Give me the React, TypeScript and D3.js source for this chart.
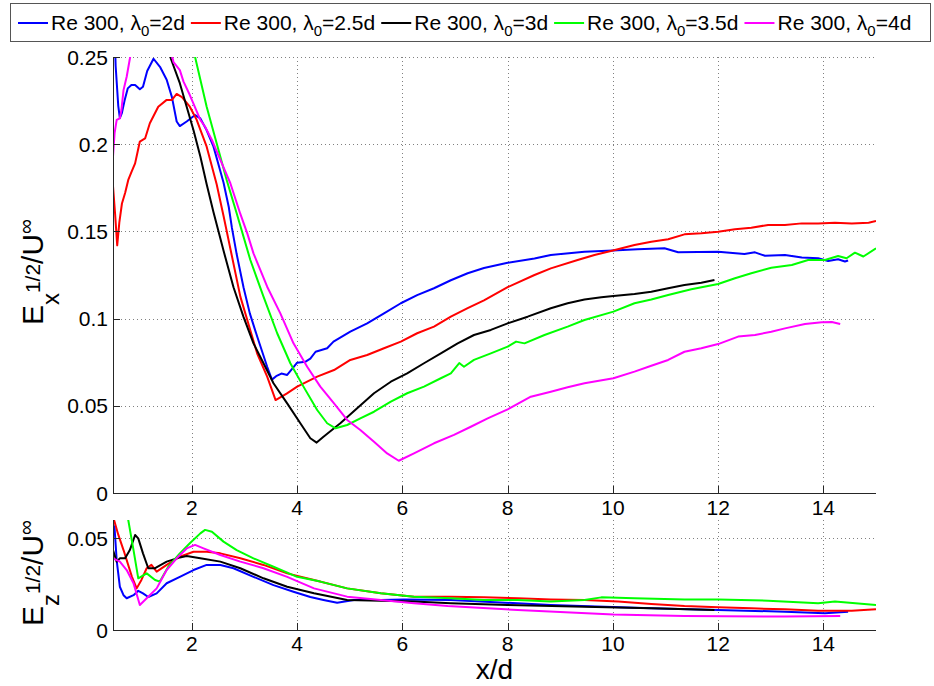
import React, { useEffect, useRef } from 'react';
import * as d3 from 'd3';

type P = [number, number];

const X_TICKS = [2, 4, 6, 8, 10, 12, 14];
const TOP_Y_TICKS = [0, 0.05, 0.1, 0.15, 0.2, 0.25];
const BOT_Y_TICKS = [0, 0.05];
const LAMBDAS = ['2d', '2.5d', '3d', '3.5d', '4d'];
const COLORS = ['#0000ff', '#ff0000', '#000000', '#00ff00', '#ff00ff'];

// Top panel: E_x^{1/2}/U∞ vs x/d
const topL2: P[] = [[0.5,0.30],[0.55,0.245],[0.6,0.222],[0.63,0.215],[0.67,0.218],[0.72,0.225],[0.78,0.232],[0.85,0.234],[0.92,0.234],[1.01,0.2315],[1.07,0.233],[1.15,0.242],[1.27,0.249],[1.4,0.244],[1.52,0.237],[1.62,0.227],[1.71,0.213],[1.77,0.2104],[1.9,0.213],[2.06,0.2167],[2.16,0.2148],[2.28,0.208],[2.41,0.1986],[2.6,0.178],[2.7,0.164],[2.76,0.152],[2.85,0.137],[2.98,0.118],[3.1,0.103],[3.24,0.0897],[3.43,0.0724],[3.52,0.065],[3.6,0.067],[3.7,0.0685],[3.81,0.0677],[3.9,0.071],[4.0,0.0747],[4.16,0.0753],[4.25,0.077],[4.35,0.081],[4.57,0.083],[4.69,0.0868],[5.01,0.0925],[5.33,0.0973],[5.65,0.103],[5.97,0.1088],[6.28,0.1135],[6.6,0.1174],[6.92,0.122],[7.24,0.126],[7.55,0.129],[8.0,0.132],[8.51,0.1345],[8.82,0.1365],[9.46,0.1384],[10.0,0.139],[10.47,0.1397],[10.98,0.1403],[11.24,0.138],[12.0,0.1384],[12.5,0.137],[12.7,0.138],[12.89,0.136],[13.27,0.1365],[13.59,0.135],[13.9,0.1346],[14.09,0.133],[14.28,0.134],[14.41,0.1327],[14.47,0.1333]];
const topL25: P[] = [[0.5,0.176],[0.54,0.16],[0.58,0.142],[0.62,0.155],[0.67,0.166],[0.73,0.172],[0.79,0.1795],[0.85,0.184],[0.92,0.189],[0.97,0.196],[1.01,0.2015],[1.11,0.2033],[1.2,0.212],[1.36,0.2215],[1.52,0.2254],[1.62,0.2254],[1.71,0.2288],[1.81,0.227],[1.96,0.2215],[2.09,0.214],[2.28,0.1986],[2.47,0.177],[2.6,0.159],[2.92,0.1126],[3.24,0.080],[3.43,0.0667],[3.59,0.0533],[3.8,0.057],[4.0,0.061],[4.38,0.0667],[4.7,0.0705],[5.01,0.0763],[5.33,0.0791],[5.65,0.083],[5.97,0.0868],[6.28,0.0916],[6.6,0.0954],[6.92,0.1011],[7.24,0.106],[7.55,0.1105],[8.0,0.118],[8.51,0.125],[8.82,0.1288],[9.33,0.1336],[9.65,0.1365],[10.0,0.139],[10.41,0.1422],[10.73,0.1441],[11.05,0.1455],[11.36,0.1483],[11.68,0.1489],[12.0,0.1498],[12.32,0.1512],[12.63,0.1521],[12.95,0.1537],[13.27,0.1537],[13.59,0.1546],[13.9,0.1546],[14.22,0.155],[14.54,0.1546],[14.86,0.155],[15.0,0.156]];
const topL3: P[] = [[1.5,0.27],[1.6,0.249],[1.77,0.235],[1.9,0.2215],[2.03,0.208],[2.16,0.193],[2.28,0.177],[2.41,0.161],[2.6,0.139],[2.79,0.118],[2.98,0.101],[3.17,0.0858],[3.36,0.0744],[3.55,0.0629],[3.81,0.0514],[4.06,0.04],[4.25,0.0314],[4.37,0.0289],[4.5,0.0323],[4.82,0.04],[5.14,0.0486],[5.46,0.0572],[5.78,0.0638],[6.09,0.0686],[6.41,0.0744],[6.73,0.0801],[7.05,0.0858],[7.36,0.0906],[7.68,0.0935],[8.0,0.0973],[8.38,0.1011],[8.82,0.1059],[9.14,0.1088],[9.46,0.111],[9.78,0.1122],[10.01,0.113],[10.41,0.1141],[10.73,0.1154],[11.05,0.1174],[11.36,0.1193],[11.68,0.1206],[11.93,0.1221]];
const topL35: P[] = [[1.95,0.27],[2.06,0.25],[2.28,0.2215],[2.47,0.2005],[2.66,0.1795],[2.85,0.1604],[3.11,0.1336],[3.36,0.1126],[3.62,0.0916],[3.87,0.0744],[4.12,0.061],[4.38,0.0476],[4.57,0.04],[4.73,0.0371],[4.95,0.039],[5.2,0.0428],[5.46,0.0466],[5.78,0.0524],[6.09,0.0572],[6.41,0.061],[6.73,0.0658],[6.92,0.0686],[7.08,0.0745],[7.17,0.0724],[7.36,0.0763],[7.68,0.0801],[8.0,0.0839],[8.16,0.0868],[8.32,0.0858],[8.7,0.0906],[9.14,0.0954],[9.46,0.0992],[10.01,0.104],[10.41,0.1088],[10.73,0.111],[11.05,0.1135],[11.49,0.1168],[12.0,0.1198],[12.32,0.1231],[12.63,0.126],[13.01,0.1292],[13.4,0.1307],[13.71,0.1336],[14.03,0.1336],[14.28,0.1359],[14.44,0.1346],[14.6,0.1378],[14.76,0.1356],[15.0,0.1403]];
const topL4: P[] = [[0.5,0.193],[0.53,0.2063],[0.57,0.2139],[0.63,0.2148],[0.66,0.2196],[0.7,0.231],[0.76,0.2387],[0.82,0.249],[0.9,0.265],[1.1,0.28],[1.35,0.275],[1.55,0.26],[1.65,0.247],[1.77,0.2425],[1.84,0.2359],[1.96,0.2282],[2.16,0.2139],[2.25,0.21],[2.38,0.2024],[2.54,0.191],[2.73,0.1776],[2.92,0.16],[3.05,0.149],[3.17,0.1374],[3.43,0.1183],[3.68,0.103],[3.93,0.0858],[4.19,0.0724],[4.44,0.061],[4.7,0.0514],[4.95,0.0419],[5.2,0.0361],[5.46,0.0294],[5.71,0.0227],[5.93,0.0185],[6.22,0.0227],[6.6,0.0285],[6.98,0.0333],[7.3,0.038],[7.62,0.0428],[8.0,0.048],[8.44,0.0552],[8.82,0.0581],[9.14,0.0606],[9.46,0.0629],[10.01,0.0658],[10.41,0.0696],[10.73,0.073],[11.05,0.0763],[11.36,0.081],[11.68,0.083],[12.0,0.0854],[12.38,0.0897],[12.7,0.0906],[13.01,0.0925],[13.27,0.0944],[13.65,0.0969],[13.97,0.0979],[14.16,0.098],[14.32,0.0969]];

// Bottom panel: E_z^{1/2}/U∞ vs x/d
const botL2: P[] = [[0.5,0.058],[0.53,0.0555],[0.57,0.038],[0.63,0.0236],[0.7,0.019],[0.76,0.0173],[0.89,0.019],[0.98,0.0214],[1.07,0.02],[1.17,0.018],[1.33,0.02],[1.52,0.0255],[1.77,0.029],[2.03,0.0327],[2.28,0.0355],[2.54,0.0355],[2.79,0.0337],[3.17,0.029],[3.55,0.0245],[3.93,0.0209],[4.25,0.018],[4.5,0.0164],[4.76,0.0149],[5.08,0.0164],[5.59,0.0164],[6.03,0.0167],[6.92,0.0164],[8.82,0.0136],[10.73,0.0118],[12.0,0.0109],[13.27,0.01],[14.03,0.0091],[14.47,0.01]];
const botL25: P[] = [[0.5,0.062],[0.6,0.052],[0.7,0.0436],[0.86,0.029],[0.95,0.0227],[1.04,0.0273],[1.14,0.0337],[1.23,0.0355],[1.33,0.0318],[1.52,0.0355],[1.77,0.04],[2.03,0.0427],[2.28,0.0427],[2.54,0.0418],[2.92,0.0391],[3.36,0.0355],[3.81,0.0309],[4.32,0.0273],[4.95,0.0227],[5.59,0.02],[6.22,0.0182],[6.92,0.0182],[7.55,0.0178],[8.19,0.0173],[8.82,0.0167],[9.46,0.0164],[10.1,0.0155],[10.73,0.0142],[11.36,0.0131],[12.0,0.0124],[12.63,0.0118],[13.27,0.0113],[13.9,0.0105],[14.54,0.0105],[15.0,0.0113]];
const botL3: P[] = [[0.5,0.0436],[0.57,0.0373],[0.63,0.0391],[0.73,0.0391],[0.82,0.0436],[0.92,0.0518],[0.98,0.05],[1.07,0.0418],[1.17,0.0337],[1.3,0.0337],[1.52,0.0373],[1.77,0.0396],[1.9,0.0404],[2.16,0.0391],[2.54,0.0373],[2.92,0.0337],[3.36,0.0282],[3.81,0.0236],[4.32,0.02],[4.95,0.0164],[5.59,0.016],[6.22,0.0155],[6.92,0.0146],[8.0,0.0136],[9.46,0.0127],[10.73,0.0118],[11.93,0.0109]];
const botL35: P[] = [[0.6,0.075],[0.79,0.06],[0.89,0.0436],[0.98,0.0282],[1.14,0.0309],[1.3,0.0273],[1.39,0.0264],[1.55,0.0345],[1.77,0.0418],[1.96,0.0473],[2.16,0.0527],[2.25,0.0546],[2.38,0.0536],[2.6,0.0482],[2.85,0.0436],[3.17,0.0391],[3.55,0.0345],[4.0,0.029],[4.44,0.0264],[4.95,0.0227],[5.59,0.02],[6.22,0.0182],[6.92,0.0173],[7.55,0.0164],[8.19,0.0164],[8.82,0.0155],[9.46,0.0164],[9.78,0.0178],[10.41,0.0173],[11.36,0.0167],[12.0,0.0167],[12.95,0.016],[13.9,0.0146],[14.22,0.0155],[15.0,0.0136]];
const botL4: P[] = [[0.5,0.0391],[0.63,0.0373],[0.76,0.0327],[0.89,0.0255],[1.01,0.0136],[1.14,0.0173],[1.33,0.0227],[1.52,0.0327],[1.71,0.0391],[1.9,0.0445],[2.06,0.0464],[2.22,0.0445],[2.54,0.0409],[2.92,0.0373],[3.36,0.0337],[3.81,0.029],[4.32,0.0227],[4.95,0.0182],[5.59,0.0164],[6.22,0.0146],[6.86,0.0131],[8.19,0.0109],[10.01,0.0085],[11.36,0.0076],[13.27,0.0073],[14.32,0.0076]];

const TOP_SERIES = [topL2, topL25, topL3, topL35, topL4];
const BOT_SERIES = [botL2, botL25, botL3, botL35, botL4];

const FONT = '"Liberation Sans", Arial, sans-serif';

export default function App() {
  const ref = useRef<SVGSVGElement>(null);

  useEffect(() => {
    const svg = d3.select(ref.current);
    svg.selectAll('*').remove();

    const x = d3.scaleLinear().domain([0.5, 15]).range([113, 876]);
    const yTop = d3.scaleLinear().domain([0, 0.25]).range([493, 57]);
    const yBot = d3.scaleLinear().domain([0, 0.06]).range([630, 520]);

    const defs = svg.append('defs');

    const drawPanel = (
      id: string,
      y: d3.ScaleLinear<number, number>,
      yTicks: number[],
      series: P[][],
      xLabelBaseline: number
    ) => {
      const [x0, x1] = x.range();
      const [yb, yt] = y.range();
      defs.append('clipPath').attr('id', id)
        .append('rect').attr('x', x0).attr('y', yt).attr('width', x1 - x0).attr('height', yb - yt);

      const g = svg.append('g');
      g.selectAll('line.vg').data(X_TICKS).enter().append('line')
        .attr('x1', (d) => Math.round(x(d)) + 0.5).attr('x2', (d) => Math.round(x(d)) + 0.5)
        .attr('y1', yt).attr('y2', yb)
        .attr('stroke', '#808080').attr('stroke-width', 1).attr('stroke-dasharray', '1,3');
      g.selectAll('line.hg').data(yTicks.filter((t) => t > 0)).enter().append('line')
        .attr('x1', x0).attr('x2', x1)
        .attr('y1', (d) => Math.round(y(d)) + 0.5).attr('y2', (d) => Math.round(y(d)) + 0.5)
        .attr('stroke', '#808080').attr('stroke-width', 1).attr('stroke-dasharray', '1,3');

      const line = d3.line<P>().x((d) => x(d[0])).y((d) => y(d[1]));
      const lg = g.append('g').attr('clip-path', `url(#${id})`);
      series.forEach((s, i) => {
        lg.append('path').attr('d', line(s) as string).attr('fill', 'none')
          .attr('stroke', COLORS[i]).attr('stroke-width', 2).attr('stroke-linejoin', 'round');
      });

      g.append('line').attr('x1', x0 + 0.5).attr('x2', x0 + 0.5).attr('y1', yt).attr('y2', yb + 0.5)
        .attr('stroke', '#262626').attr('stroke-width', 1);
      g.append('line').attr('x1', x0).attr('x2', x1).attr('y1', yb + 0.5).attr('y2', yb + 0.5)
        .attr('stroke', '#262626').attr('stroke-width', 1);
      g.selectAll('line.xt').data(X_TICKS).enter().append('line')
        .attr('x1', (d) => Math.round(x(d)) + 0.5).attr('x2', (d) => Math.round(x(d)) + 0.5)
        .attr('y1', yb).attr('y2', yb - 7).attr('stroke', '#262626');
      g.selectAll('line.yt').data(yTicks).enter().append('line')
        .attr('x1', x0).attr('x2', x0 + 7)
        .attr('y1', (d) => Math.round(y(d)) + 0.5).attr('y2', (d) => Math.round(y(d)) + 0.5)
        .attr('stroke', '#262626');

      g.selectAll('text.xl').data(X_TICKS).enter().append('text')
        .attr('x', (d) => x(d)).attr('y', xLabelBaseline)
        .attr('text-anchor', 'middle').attr('font-family', FONT).attr('font-size', 21)
        .text((d) => String(d));
      g.selectAll('text.yl').data(yTicks).enter().append('text')
        .attr('x', x0 - 5).attr('y', (d) => y(d)).attr('dy', '0.36em')
        .attr('text-anchor', 'end').attr('font-family', FONT).attr('font-size', 21)
        .text((d) => String(d));
    };

    drawPanel('clipTop', yTop, TOP_Y_TICKS, TOP_SERIES, 515);
    drawPanel('clipBot', yBot, BOT_Y_TICKS, BOT_SERIES, 651);

    const yLabel = (cy: number, sub: string) => {
      const t = svg.append('text')
        .attr('transform', `translate(43,${cy}) rotate(-90)`)
        .attr('text-anchor', 'middle').attr('font-family', FONT).attr('font-size', 30);
      t.append('tspan').text('E');
      t.append('tspan').attr('font-size', 24).attr('dy', 16).text(sub);
      t.append('tspan').attr('font-size', 21).attr('dy', -19).text('1/2');
      t.append('tspan').attr('dy', 3).text('/U');
      t.append('tspan').attr('font-size', 21).attr('dy', -10).text('\u221e');
    };
    yLabel(272, 'x');
    yLabel(573, 'z');

    svg.append('text').attr('x', (x.range()[0] + x.range()[1]) / 2).attr('y', 679)
      .attr('text-anchor', 'middle').attr('font-family', FONT).attr('font-size', 28)
      .text('x/d');

    const leg = svg.append('g');
    leg.append('rect').attr('x', 10.5).attr('y', 3.5).attr('width', 920).attr('height', 38)
      .attr('fill', '#fff').attr('stroke', '#555').attr('stroke-width', 1);
    let cx = 18;
    LAMBDAS.forEach((lam, i) => {
      leg.append('line').attr('x1', cx).attr('x2', cx + 30).attr('y1', 23).attr('y2', 23)
        .attr('stroke', COLORS[i]).attr('stroke-width', 2);
      const t = leg.append('text').attr('x', cx + 33).attr('y', 30)
        .attr('font-family', FONT).attr('font-size', 21);
      t.append('tspan').text('Re 300, \u03bb');
      t.append('tspan').attr('font-size', 15).attr('dy', 6).text('0');
      t.append('tspan').attr('dy', -6).text('=' + lam);
      const w = (t.node() as SVGTextElement).getComputedTextLength();
      cx += 33 + w + 6;
    });
  }, []);

  return (
    <svg ref={ref} width={934} height={686}
      style={{ position: 'absolute', left: 0, top: 0, background: '#fff' }} />
  );
}
